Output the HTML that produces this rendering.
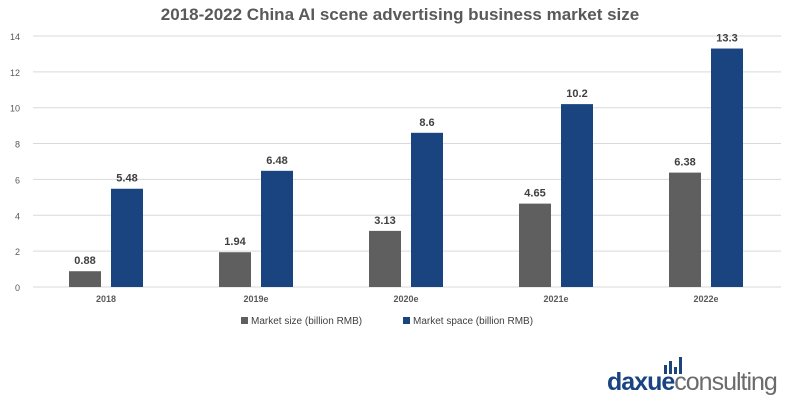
<!DOCTYPE html>
<html><head><meta charset="utf-8"><style>
body{margin:0;background:#fff;width:800px;height:400px;overflow:hidden;font-family:"Liberation Sans",Arial,sans-serif}
</style></head><body>
<svg id="chart" width="800" height="400" xmlns="http://www.w3.org/2000/svg" font-family="Liberation Sans, Arial, sans-serif">
<text x="400" y="20" text-anchor="middle" font-size="17" font-weight="bold" fill="#595959">2018-2022 China AI scene advertising business market size</text>
<g id="grid"></g><g id="bars"></g>
<g>
<rect x="241" y="317" width="7" height="7" fill="#5f5f5f"/>
<text x="251" y="324" font-size="10" fill="#404040">Market size (billion RMB)</text>
<rect x="403" y="317" width="7" height="7" fill="#1a4480"/>
<text x="413" y="324" font-size="10" fill="#404040">Market space (billion RMB)</text>
</g>
<g>
<rect x="664" y="365" width="3" height="9" fill="#1a4480"/><rect x="669" y="361" width="3" height="13" fill="#1a4480"/><rect x="674" y="367" width="3" height="7" fill="#1a4480"/><rect x="679" y="357" width="3" height="17" fill="#1a4480"/>
<text x="607" y="390" font-size="25" font-weight="bold" fill="#1a4480" letter-spacing="-1">daxue<tspan fill="#6b6b6b" font-weight="normal">consulting</tspan></text>
</g>
</svg>
<script>
const categories=["2018","2019e","2020e","2021e","2022e"];
const marketSize=[0.88,1.94,3.13,4.65,6.38];
const marketSpace=[5.48,6.48,8.6,10.2,13.3];
const sizeLabels=["0.88","1.94","3.13","4.65","6.38"];
const spaceLabels=["5.48","6.48","8.6","10.2","13.3"];
const yTicks=[0,2,4,6,8,10,12,14];
const NS="http://www.w3.org/2000/svg";
const x0=31,x1=781,yBase=287,pxPer=17.93;
const y=v=>yBase-v*pxPer;
const band=(x1-x0)/categories.length;
const xc=i=>x0+band*(i+0.5);
function mk(t,a,p){const e=document.createElementNS(NS,t);for(const k in a)e.setAttribute(k,a[k]);p.appendChild(e);return e;}
const grid=document.getElementById('grid'),bars=document.getElementById('bars');
yTicks.forEach(v=>{
 const l=mk('line',{x1:x0+2,x2:x1,y1:y(v),y2:y(v),stroke:'#d9d9d9','stroke-width':1},grid);
 
 
 const t=mk('text',{x:20,y:y(v)+4,'text-anchor':'end','font-size':9,fill:'#595959'},grid);
 t.textContent=v;
 
 
});
categories.forEach((c,i)=>{
 const cx=xc(i),w=32;
 const g=mk('rect',{x:cx-37,y:y(marketSize[i]),width:w,height:marketSize[i]*pxPer,fill:'#5f5f5f'},bars);
 
 
 const b=mk('rect',{x:cx+5,y:y(marketSpace[i]),width:w,height:marketSpace[i]*pxPer,fill:'#1a4480'},bars);
 
 
 const l1=mk('text',{x:cx-21,y:y(marketSize[i])-7,'text-anchor':'middle','font-size':11,'font-weight':'bold',fill:'#404040'},bars);
 l1.textContent=sizeLabels[i];
 
 
 const l2=mk('text',{x:cx+21,y:y(marketSpace[i])-7,'text-anchor':'middle','font-size':11,'font-weight':'bold',fill:'#404040'},bars);
 l2.textContent=spaceLabels[i];
 
 
 const t=mk('text',{x:cx,y:302,'text-anchor':'middle','font-size':9,'font-weight':'bold',fill:'#595959'},bars);
 t.textContent=c;
 
 
});
</script>
</body></html>
